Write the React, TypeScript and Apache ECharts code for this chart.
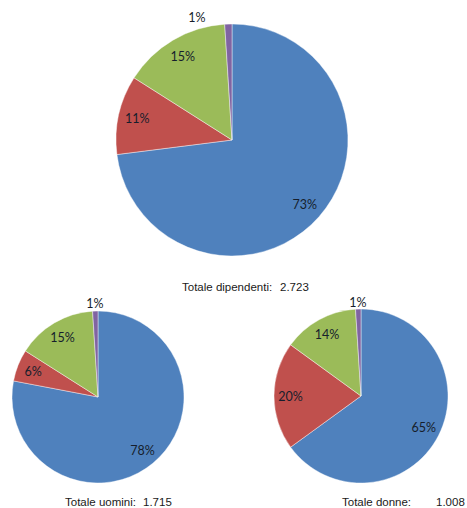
import React, { useEffect, useRef } from "react";
import * as echarts from "echarts";

const categories = ["A", "B", "C", "D"];
const colors = ["#4F81BD", "#C0504D", "#9BBB59", "#8064A2"];
const totaleValues = [73, 11, 15, 1];
const uominiValues = [78, 6, 15, 1];
const donneValues = [65, 20, 14, 1];
const totalLabels = ["Totale dipendenti:", "Totale uomini:", "Totale donne:"];
const totalValues = ["2.723", "1.715", "1.008"];

const pies = [
  { values: totaleValues, cx: 232, cy: 140, r: 116, inner: 0.62, smallOffset: [-32, -26] },
  { values: uominiValues, cx: 98, cy: 397, r: 86, inner: 0.55, smallOffset: [-1, -24] },
  { values: donneValues, cx: 361, cy: 396, r: 87, inner: 0.55, smallOffset: [-1, -23] },
];

const textPos = [
  { lx: 182, vx: 280, y: 287 },
  { lx: 65, vx: 143, y: 502 },
  { lx: 342, vx: 436, y: 502 },
];

export default function App() {
  const ref = useRef<HTMLDivElement>(null);
  useEffect(() => {
    document.body.style.margin = "0";
    const chart = echarts.init(ref.current!, null, { renderer: "svg" });
    const series: any[] = [];
    pies.forEach((p) => {
      series.push({
        type: "pie",
        center: [p.cx, p.cy],
        radius: [0, p.r],
        startAngle: 90,
        clockwise: true,
        silent: true,
        label: { show: false },
        labelLine: { show: false },
        itemStyle: { borderColor: "rgba(255,255,255,0.7)", borderWidth: 0.6 },
        data: p.values.map((v, i) => ({
          name: categories[i],
          value: v,
          itemStyle: { color: colors[i] },
        })),
      });
      series.push({
        type: "pie",
        center: [p.cx, p.cy],
        radius: [p.r * p.inner, p.r],
        startAngle: 90,
        clockwise: true,
        silent: true,
        z: 3,
        itemStyle: { color: "rgba(0,0,0,0)" },
        label: {
          show: true,
          position: "inside",
          formatter: "{c}%",
          color: "#161e2c",
          fontSize: 12.5,
          fontFamily: "Lato",
        },
        labelLine: { show: false },
        data: p.values.map((v, i) => ({
          name: categories[i],
          value: v,
          label: i === 3 ? { offset: p.smallOffset } : undefined,
        })),
      });
    });
    const graphic: any[] = [];
    textPos.forEach((t, i) => {
      graphic.push({
        type: "text",
        x: t.lx,
        y: t.y,
        style: {
          text: totalLabels[i],
          fontSize: 11.5,
          fontFamily: "Liberation Sans",
          fill: "#1a1a1a",
          textVerticalAlign: "middle",
        },
      });
      graphic.push({
        type: "text",
        x: t.vx,
        y: t.y,
        style: {
          text: totalValues[i],
          fontSize: 11.5,
          fontFamily: "Liberation Sans",
          fill: "#1a1a1a",
          textVerticalAlign: "middle",
        },
      });
    });
    chart.setOption({
      animation: false,
      backgroundColor: "#ffffff",
      series,
      graphic,
    });
    return () => chart.dispose();
  }, []);
  return (
    <div
      ref={ref}
      style={{ position: "fixed", left: 0, top: 0, width: 467, height: 508 }}
    />
  );
}
